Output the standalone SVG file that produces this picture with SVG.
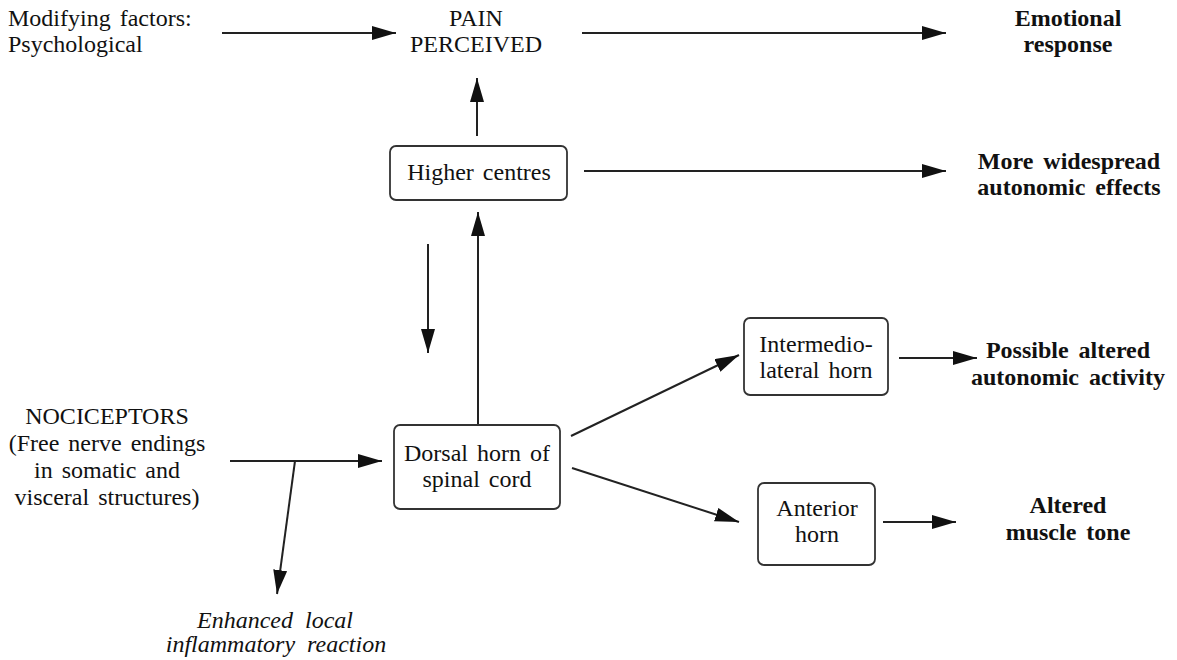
<svg xmlns="http://www.w3.org/2000/svg" width="1177" height="660" viewBox="0 0 1177 660">
  <style>
    text { font-family: "Liberation Serif", "Times New Roman", serif; font-size: 24px; fill: #111; word-spacing: 3px; }
    .c { text-anchor: middle; }
    .b { font-weight: bold; word-spacing: 4px; }
    .i { font-style: italic; word-spacing: 6px; }
    .box { fill: #fff; stroke: #333; stroke-width: 1.8; }
    .ln { fill: none; stroke: #222; stroke-width: 2; marker-end: url(#ah); }
  </style>
  <defs>
    <marker id="ah" markerUnits="userSpaceOnUse" markerWidth="26" markerHeight="16" refX="24" refY="7" orient="auto">
      <path d="M0,0 L24,7 L0,14 Z" fill="#111"/>
    </marker>
  </defs>

  <rect width="1177" height="660" fill="#fff"/>

  <g id="connectors">
    <line class="ln" x1="222" y1="33" x2="396" y2="33"/>
    <line class="ln" x1="582" y1="33" x2="946" y2="33"/>
    <line class="ln" x1="477" y1="136" x2="477" y2="78"/>
    <line class="ln" x1="584" y1="171" x2="946" y2="171"/>
    <line class="ln" x1="428" y1="244" x2="428" y2="353"/>
    <line class="ln" x1="478" y1="435" x2="478" y2="212"/>
    <line class="ln" x1="571" y1="436" x2="739" y2="355"/>
    <line class="ln" x1="572" y1="468" x2="739" y2="522"/>
    <line class="ln" x1="899" y1="358" x2="977" y2="358"/>
    <line class="ln" x1="883" y1="522" x2="956" y2="522"/>
    <line class="ln" x1="230" y1="461" x2="382" y2="461"/>
    <line class="ln" x1="295" y1="461" x2="277" y2="594"/>
  </g>

  <g id="modifying-factors">
    <text x="8" y="26">Modifying factors:</text>
    <text x="8" y="52">Psychological</text>
  </g>

  <g id="pain-perceived">
    <text class="c" x="476" y="26">PAIN</text>
    <text class="c" x="476" y="52">PERCEIVED</text>
  </g>

  <g id="emotional-response">
    <text class="c b" x="1068" y="26">Emotional</text>
    <text class="c b" x="1068" y="52">response</text>
  </g>

  <g id="higher-centres">
    <rect class="box" x="390" y="146" width="177" height="54" rx="6"/>
    <text class="c" x="479" y="180">Higher centres</text>
  </g>

  <g id="widespread-autonomic">
    <text class="c b" x="1069" y="169">More widespread</text>
    <text class="c b" x="1069" y="195">autonomic effects</text>
  </g>

  <g id="dorsal-horn">
    <rect class="box" x="394" y="425" width="166" height="84" rx="6"/>
    <text class="c" x="477" y="461">Dorsal horn of</text>
    <text class="c" x="477" y="487">spinal cord</text>
  </g>

  <g id="intermediolateral-horn">
    <rect class="box" x="744" y="318" width="144" height="77" rx="6"/>
    <text class="c" x="816" y="352">Intermedio-</text>
    <text class="c" x="816" y="378">lateral horn</text>
  </g>

  <g id="autonomic-activity">
    <text class="c b" x="1068" y="358">Possible altered</text>
    <text class="c b" x="1068" y="385">autonomic activity</text>
  </g>

  <g id="anterior-horn">
    <rect class="box" x="758" y="483" width="117" height="82" rx="6"/>
    <text class="c" x="817" y="516">Anterior</text>
    <text class="c" x="817" y="542">horn</text>
  </g>

  <g id="muscle-tone">
    <text class="c b" x="1068" y="513">Altered</text>
    <text class="c b" x="1068" y="540">muscle tone</text>
  </g>

  <g id="nociceptors">
    <text class="c" x="107" y="424">NOCICEPTORS</text>
    <text class="c" x="107" y="451">(Free nerve endings</text>
    <text class="c" x="107" y="478">in somatic and</text>
    <text class="c" x="107" y="505">visceral structures)</text>
  </g>

  <g id="inflammatory-reaction">
    <text class="c i" x="275" y="628">Enhanced local</text>
    <text class="c i" x="276" y="652">inflammatory reaction</text>
  </g>
</svg>
